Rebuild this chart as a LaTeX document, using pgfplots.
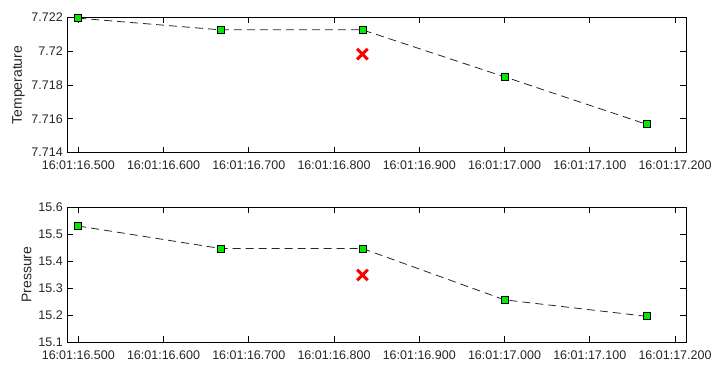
\documentclass[border=0pt]{standalone}
\usepackage{fontspec}
\setmainfont{Liberation Sans}
\usepackage{pgfplots}
\pgfplotsset{compat=1.18}
\definecolor{mkgreen}{RGB}{0,235,0}
\definecolor{txt}{RGB}{38,38,38}
\begin{document}
\begin{tikzpicture}
\path[use as bounding box] (0bp,0bp) rectangle (724bp,369bp);
\pgfplotsset{
  common/.style={
    scale only axis, width=618.7bp, height=135.2bp,
    xmin=16.4871, xmax=17.2129,
    xtick={16.5,16.6,16.7,16.8,16.9,17.0,17.1,17.2},
    xticklabels={16:01:16.500,16:01:16.600,16:01:16.700,16:01:16.800,16:01:16.900,16:01:17.000,16:01:17.100,16:01:17.200},
    tick align=inside, major tick length=6bp,
    axis line style={black, line width=0.8bp},
    tick style={black, line width=0.8bp},
    ticklabel style={font=\fontsize{12.5bp}{14bp}\selectfont, text=txt},
    xticklabel style={yshift=-4.5bp},
    yticklabel style={xshift=-1bp},
    label style={font=\fontsize{14bp}{16bp}\selectfont, text=txt},
    clip=false,
  },
  dline/.style={black!85, line width=0.8bp, dash pattern=on 8bp off 5bp,
    mark=square*, mark size=3.5bp,
    mark options={solid, fill=mkgreen, draw=black, line width=0.8bp}},
  xmark/.style={only marks, mark=x, mark size=7.5bp,
    mark options={red, line width=3bp}},
}
\begin{axis}[common, at={(67.3bp,216.3bp)}, anchor=south west,
  ymin=7.714, ymax=7.722,
  ytick={7.714,7.716,7.718,7.72,7.722},
  yticklabels={7.714,7.716,7.718,7.72,7.722},
  ylabel={Temperature}]
\addplot[dline] coordinates {
  (16.5,7.72196) (16.6667,7.72127) (16.8333,7.72127) (17.0,7.71849) (17.1667,7.71568)};
\addplot[xmark] coordinates {(16.8333,7.71983)};
\end{axis}
\begin{axis}[common, at={(67.3bp,26.7bp)}, anchor=south west,
  ymin=15.1, ymax=15.6,
  ytick={15.1,15.2,15.3,15.4,15.5,15.6},
  yticklabels={15.1,15.2,15.3,15.4,15.5,15.6},
  ylabel={Pressure}]
\addplot[dline] coordinates {
  (16.5,15.530) (16.6667,15.447) (16.8333,15.447) (17.0,15.257) (17.1667,15.196)};
\addplot[xmark] coordinates {(16.8333,15.349)};
\end{axis}
\end{tikzpicture}
\end{document}
